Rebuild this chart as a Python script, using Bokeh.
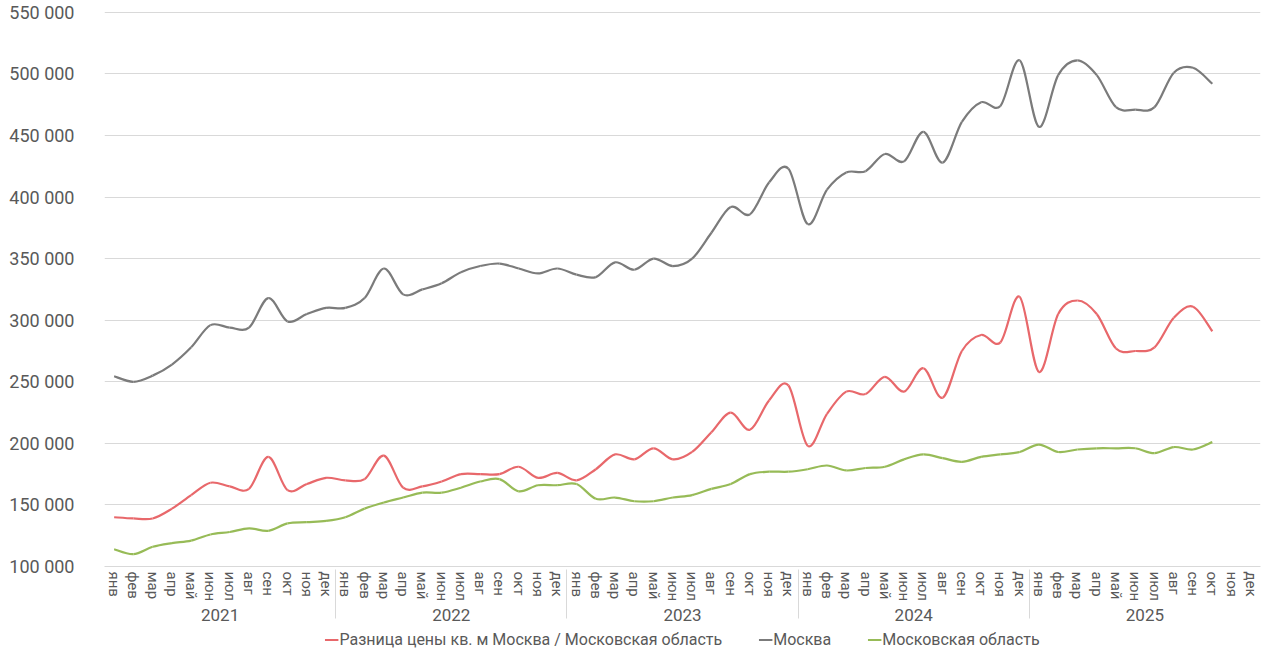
from bokeh.plotting import figure
from bokeh.models import FactorRange, Range1d, FixedTicker, Legend, LegendItem
from bokeh.layouts import column
from bokeh.embed import file_html
from bokeh.resources import INLINE

years = ["2021", "2022", "2023", "2024", "2025"]
months = ["янв", "фев", "мар", "апр", "май", "июн", "июл", "авг", "сен", "окт", "ноя", "дек"]

moscow = [254500, 250000, 255000, 264000, 278000, 296000, 294000, 294000, 318000, 299000, 305000, 310000,
          310000, 318000, 342000, 321000, 325000, 330000, 339000, 344000, 346000, 342000, 338000, 342000,
          337000, 335000, 347000, 341000, 350000, 344000, 350000, 371000, 392000, 386000, 412000, 423000,
          378000, 406000, 420000, 421000, 435000, 429000, 453000, 428000, 461000, 477000, 474000, 511000,
          457000, 499000, 511000, 499000, 473000, 471000, 473000, 501000, 505000, 492000]
diff = [140000, 139000, 139000, 147000, 158000, 168000, 165000, 163000, 189000, 162000, 167000, 172000,
        170000, 171000, 190000, 164000, 165000, 169000, 175000, 175000, 175000, 181000, 172000, 176000,
        170000, 179000, 191000, 187000, 196000, 187000, 193000, 209000, 225000, 211000, 235000, 247000,
        198000, 224000, 242000, 240000, 254000, 242000, 261000, 237000, 275000, 288000, 282000, 319000,
        258000, 305000, 316000, 305000, 277000, 275000, 278000, 302000, 311000, 291000]
oblast = [114000, 110000, 116000, 119000, 121000, 126000, 128000, 131000, 129000, 135000, 136000, 137000,
          140000, 147000, 152000, 156000, 160000, 160000, 164000, 169000, 171000, 161000, 166000, 166000,
          167000, 155000, 156000, 153000, 153000, 156000, 158000, 163000, 167000, 175000, 177000, 177000,
          179000, 182000, 178000, 180000, 181000, 187000, 191000, 188000, 185000, 189000, 191000, 193000,
          199000, 193000, 195000, 196000, 196000, 196000, 192000, 197000, 195000, 201000]

y_ticks = [100000, 150000, 200000, 250000, 300000, 350000, 400000, 450000, 500000, 550000]

series = [
    ("Разница цены кв. м Москва / Московская область", diff, "#e8686b"),
    ("Москва", moscow, "#7b7b7b"),
    ("Московская область", oblast, "#97bb57"),
]

factors = [(y, m) for y in years for m in months]
x_range = FactorRange(factors=factors, group_padding=0, factor_padding=0, subgroup_padding=0,
                      range_padding=0)

TXT = "#595959"
FONT = "Roboto"

p = figure(x_range=x_range, y_range=Range1d(100000, 551500),
           width=1264, height=624,
           output_backend="svg", toolbar_location=None,
           min_border_left=104, min_border_right=4, min_border_top=10, min_border_bottom=0)
p.outline_line_color = None
p.background_fill_color = "white"
p.border_fill_color = "white"

p.xgrid.grid_line_color = None
p.ygrid.grid_line_color = "#d9d9d9"
p.ygrid.grid_line_width = 1

p.yaxis.ticker = FixedTicker(ticks=y_ticks)
p.yaxis.major_label_overrides = {v: f"{v:,}".replace(",", " ") for v in y_ticks}
p.yaxis.axis_line_color = None
p.yaxis.major_tick_line_color = None
p.yaxis.minor_tick_line_color = None
p.yaxis.major_label_text_font = FONT
p.yaxis.major_label_text_font_size = "18px"
p.yaxis.major_label_text_color = TXT
p.yaxis.major_label_standoff = 24

xa = p.xaxis[0]
xa.axis_line_color = "#d9d9d9"
xa.major_tick_line_color = None
xa.minor_tick_line_color = None
xa.major_tick_out = 0
xa.major_tick_in = 0
xa.major_label_orientation = "vertical"
xa.major_label_text_font = FONT
xa.major_label_text_font_size = "15px"
xa.major_label_text_color = TXT
xa.major_label_standoff = 5
xa.group_text_font = FONT
xa.group_text_font_size = "17px"
xa.group_text_font_style = "normal"
xa.group_text_color = TXT
xa.group_label_orientation = "horizontal"
xa.separator_line_color = "#d9d9d9"
xa.separator_line_width = 1

T = 1.0 / 6.0
for name, vals, col in series:
    n = len(vals)
    xs = [i + 0.5 for i in range(n)]
    x0, y0, x1, y1, cx0, cy0, cx1, cy1 = [], [], [], [], [], [], [], []
    for i in range(n - 1):
        im1 = max(i - 1, 0)
        ip2 = min(i + 2, n - 1)
        x0.append(xs[i]); y0.append(vals[i])
        x1.append(xs[i + 1]); y1.append(vals[i + 1])
        cx0.append(xs[i] + (xs[i + 1] - xs[im1]) * T)
        cy0.append(vals[i] + (vals[i + 1] - vals[im1]) * T)
        cx1.append(xs[i + 1] - (xs[ip2] - xs[i]) * T)
        cy1.append(vals[i + 1] - (vals[ip2] - vals[i]) * T)
    p.bezier(x0=x0, y0=y0, x1=x1, y1=y1, cx0=cx0, cy0=cy0, cx1=cx1, cy1=cy1,
             line_color=col, line_width=2.2)

# legend strip below the chart (its lines lie outside its own visible range)
lg = figure(width=1264, height=30, x_range=Range1d(0, 1), y_range=Range1d(0, 1),
            output_backend="svg", toolbar_location=None,
            x_axis_location=None, y_axis_location=None, min_border=0)
lg.outline_line_color = None
lg.xgrid.visible = False
lg.ygrid.visible = False
lg.border_fill_color = "white"
lg.background_fill_color = "white"

items = []
for name, vals, col in series:
    r = lg.line(x=list(range(len(vals))), y=vals, line_color=col, line_width=2.2)
    items.append(LegendItem(label=name, renderers=[r]))

legend = Legend(items=items, orientation="horizontal", location="center",
                label_text_font=FONT, label_text_font_size="16px", label_text_color=TXT,
                glyph_width=14, glyph_height=10, spacing=36, label_standoff=1, label_height=18,
                border_line_color=None, background_fill_alpha=0, padding=1, margin=0)
lg.add_layout(legend, "center")

layout = column(p, lg, spacing=0)
open("out.html", "w").write(file_html(layout, INLINE))
